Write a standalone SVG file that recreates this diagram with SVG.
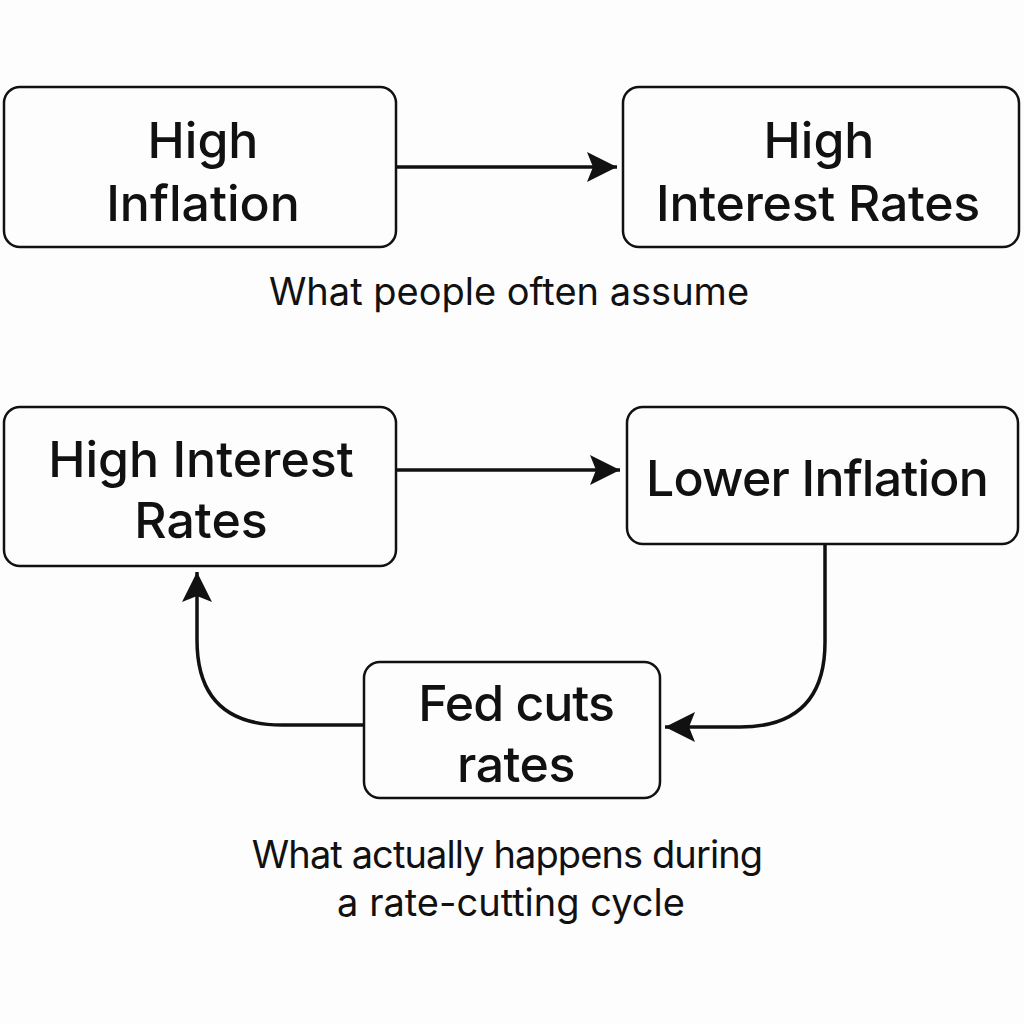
<svg xmlns="http://www.w3.org/2000/svg" width="1024" height="1024" viewBox="0 0 1024 1024">
<style>
.box{fill:#fdfdfd;stroke:#111;stroke-width:2.5}
.t{font-family:Inter,"Noto Sans","Liberation Sans",sans-serif;font-weight:500;font-size:50px;fill:#111;text-anchor:middle}
.c{font-family:Inter,"Noto Sans","Liberation Sans",sans-serif;font-weight:400;font-size:38px;fill:#111;text-anchor:middle}
.line{fill:none;stroke:#111;stroke-width:3.5}
</style>
<defs>
<marker id="ah" viewBox="0 0 30 30" refX="30" refY="15" markerWidth="30" markerHeight="30" markerUnits="userSpaceOnUse" orient="auto">
<path d="M0,0 L30,15 L0,30 L6,15 Z" fill="#111"/>
</marker>
</defs>
<rect width="1024" height="1024" fill="#fdfdfd"/>
<g id="connectors">
<line class="line" x1="396" y1="167" x2="617" y2="167" marker-end="url(#ah)"/>
<line class="line" x1="396" y1="470" x2="620" y2="470" marker-end="url(#ah)"/>
<path class="line" d="M825,544 V642 Q825,727 740,727 H665" marker-end="url(#ah)"/>
<path class="line" d="M364,725 H282 Q197,725 197,640 V572" marker-end="url(#ah)"/>
</g>
<g id="node-high-inflation">
<rect class="box" x="4" y="87" width="392" height="160" rx="16"/>
<text class="t" x="203" y="158">High</text>
<text class="t" x="203" y="221">Inflation</text>
</g>
<g id="node-high-interest-top">
<rect class="box" x="623" y="87" width="396" height="160" rx="16"/>
<text class="t" x="819" y="158">High</text>
<text class="t" x="818" y="221" letter-spacing="-0.3">Interest Rates</text>
</g>
<g id="caption-top">
<text class="c" x="509" y="305">What people often assume</text>
</g>
<g id="node-high-interest-bottom">
<rect class="box" x="4" y="407" width="392" height="159" rx="16"/>
<text class="t" x="201" y="477">High Interest</text>
<text class="t" x="201" y="538">Rates</text>
</g>
<g id="node-lower-inflation">
<rect class="box" x="627" y="407" width="391" height="137" rx="16"/>
<text class="t" x="817" y="496" letter-spacing="-0.8">Lower Inflation</text>
</g>
<g id="node-fed-cuts">
<rect class="box" x="364" y="662" width="296" height="136" rx="16"/>
<text class="t" x="516" y="721" letter-spacing="-1">Fed cuts</text>
<text class="t" x="516" y="782" letter-spacing="-0.5">rates</text>
</g>
<g id="caption-bottom">
<text class="c" x="507" y="868" letter-spacing="-0.9">What actually happens during</text>
<text class="c" x="511" y="916">a rate-cutting cycle</text>
</g>
</svg>
